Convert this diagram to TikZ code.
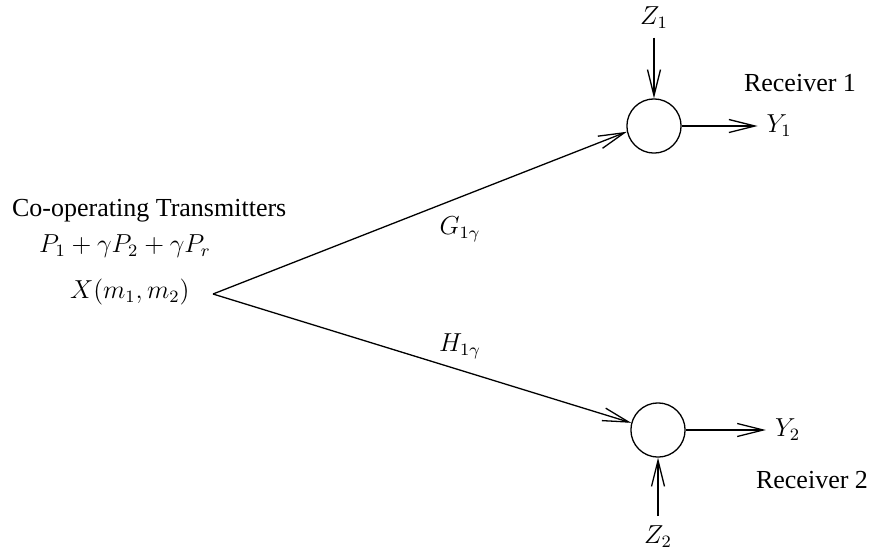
\documentclass[tikz,border=0pt,12pt]{standalone}
\usepackage{fontspec}
\setmainfont{Liberation Serif}
\usetikzlibrary{arrows.meta, positioning}

\begin{document}
\begin{tikzpicture}[x=0.4615pt, y=-0.4615pt, node distance=27pt]
    \tikzstyle{adder} = [circle, draw, line width=0.6pt, minimum size=25pt, inner sep=0pt]
    \tikzstyle{sig} = [-{Straight Barb[length=12pt, width=6pt]}, line width=0.6pt]

    \useasboundingbox (0,0) rectangle (875,557);

    % transmitter side
    \node (coop) [anchor=west] at (3,211)  {Co-operating Transmitters};
    \node (pwr)  [anchor=west] at (30,246) {$P_1+\gamma P_2+\gamma P_r$};
    \node (xsig) [anchor=west] at (61,292) {$X(m_1,m_2)$};
    \coordinate (apex) at (213,294);

    % receivers
    \node (sum1) [adder] at (654,126) {};
    \node (sum2) [adder] at (658,430) {};
    \node (z1) [above=28pt of sum1] {$Z_1$};
    \node (z2) [below=of sum2] {$Z_2$};
    \node (y1) [right=35pt of sum1] {$Y_1$};
    \node (y2) [right=37pt of sum2] {$Y_2$};
    \node (rx1) at (800,83)  {Receiver 1};
    \node (rx2) at (812,480) {Receiver 2};

    \node (gain1) at (460,229) {$G_{1\gamma}$};
    \node (gain2) at (460,346) {$H_{1\gamma}$};

    \draw [sig] (apex) -- (sum1.192);
    \draw [sig] (apex) -- (sum2.165);
    \draw [sig] (z1) -- (sum1);
    \draw [sig] (z2) -- (sum2);
    \draw [sig] (sum1) -- (y1);
    \draw [sig] (sum2) -- (y2);
\end{tikzpicture}
\end{document}
